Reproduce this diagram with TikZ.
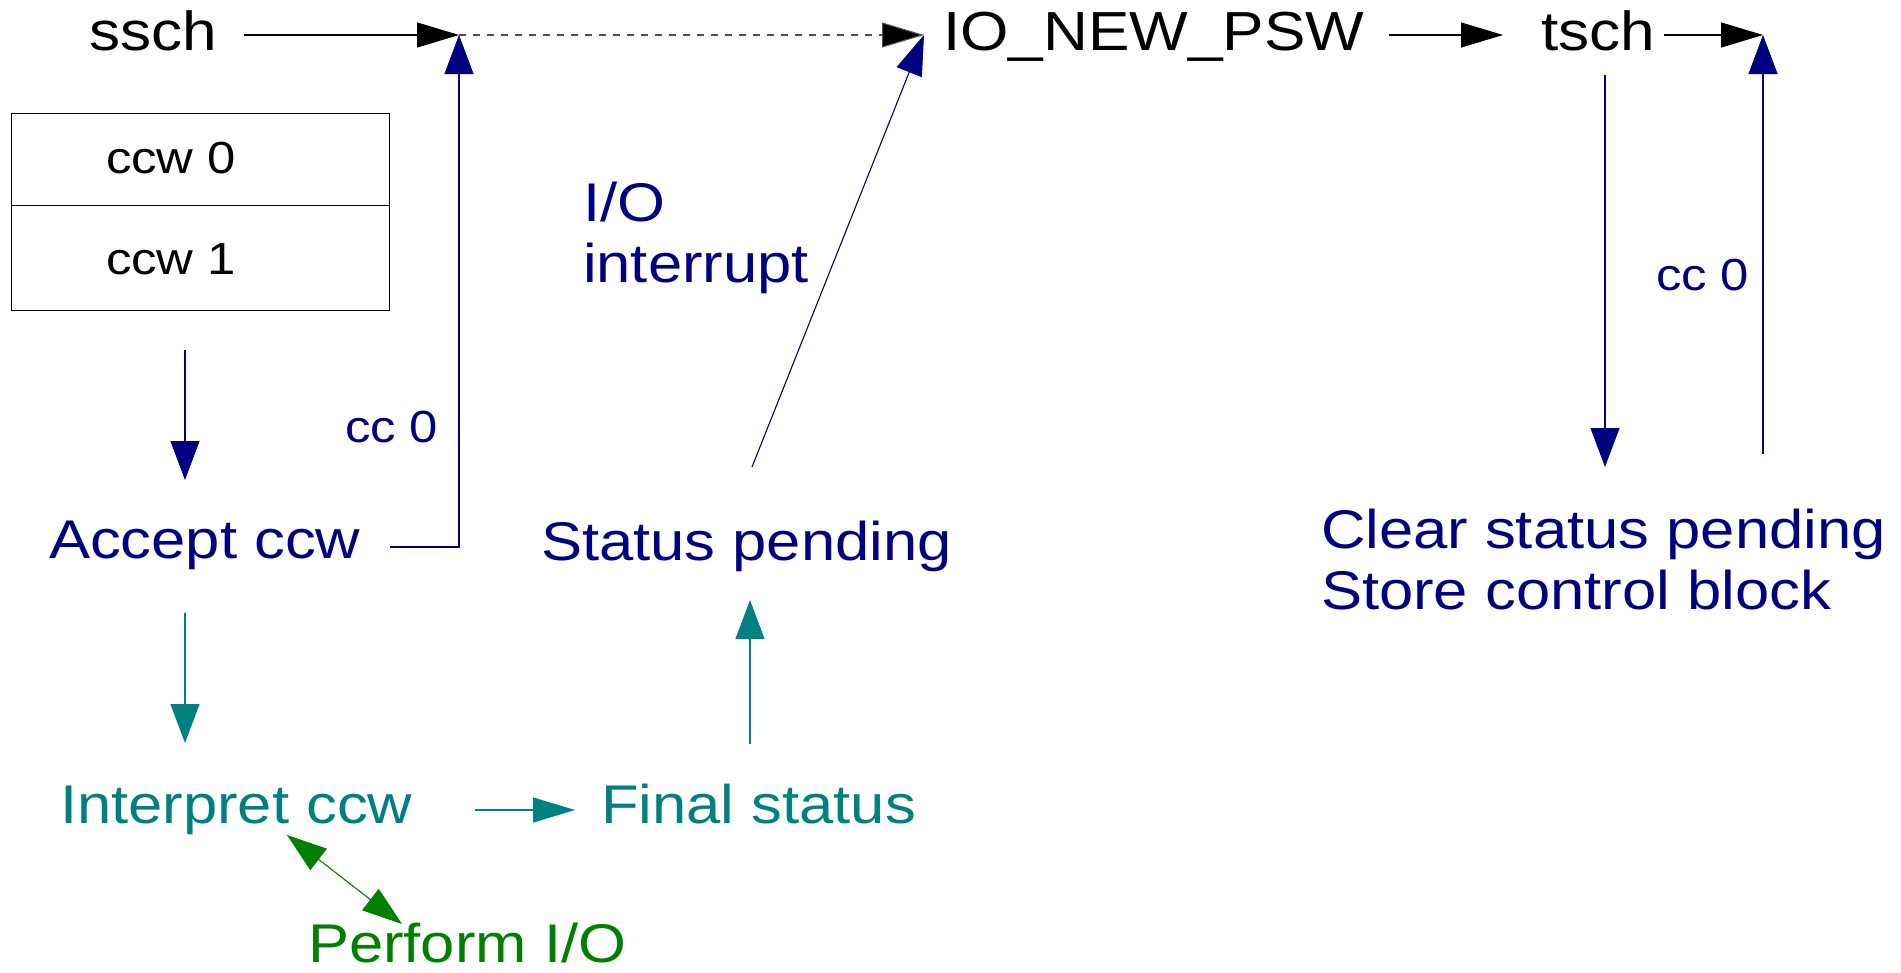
\documentclass[tikz,border=0pt]{standalone}
\usepackage{fontspec}
\setmainfont{Liberation Sans}[FakeStretch=1.13]
\usetikzlibrary{arrows.meta}
\definecolor{navyc}{HTML}{000080}
\definecolor{tealc}{HTML}{008080}
\definecolor{greenc}{HTML}{008000}
\definecolor{dashc}{HTML}{505050}
\begin{document}
\begin{tikzpicture}[x=1pt,y=-1pt,
  lbl/.style={inner sep=0pt, outer sep=0pt, anchor=base west},
  big/.style={font=\fontsize{54.5}{61.5}\selectfont},
  bigblk/.style={font=\fontsize{55}{61.5}\selectfont},
  small/.style={font=\fontsize{45}{52}\selectfont},
  conn/.style={line width=1.1pt},
  hhead/.style={-{Triangle[length=42pt,width=25pt]}},
  vhead/.style={-{Triangle[length=39pt,width=29pt]}},
  dhead/.style={-{Triangle[length=40pt,width=27pt]}},
  ddhead/.style={{Triangle[length=40pt,width=27pt]}-{Triangle[length=40pt,width=27pt]}},
  ]
\useasboundingbox (0,0) rectangle (1901,972);

% ---- texts ----
\node[lbl,bigblk] (ssch) at (89,50) {ssch};
\node[lbl,bigblk] (psw) at (943,50) {IO\_NEW\_PSW};
\node[lbl,bigblk] (tsch) at (1541,50) {tsch};

\node[draw, line width=1pt, minimum width=378pt, minimum height=92pt, inner sep=0pt, anchor=north west] (ccw0box) at (11,113) {};
\node[draw, line width=1pt, minimum width=378pt, minimum height=105pt, inner sep=0pt, anchor=north west] (ccw1box) at (11,205) {};
\node[lbl,small] (ccw0) at (106,173) {ccw 0};
\node[lbl,small] (ccw1) at (106,274) {ccw 1};

\node[lbl,big,text=navyc] (accept) at (49,558) {Accept ccw};
\node[lbl,small,text=navyc] (ccl) at (345,442) {cc 0};
\node[lbl,big,text=navyc] (ioint) at (583,221) {\vtop{\hbox{I/O}\hbox{interrupt}}};
\node[lbl,big,text=navyc] (status) at (541,560) {Status pending};
\node[lbl,big,text=tealc] (interp) at (60,823) {Interpret ccw};
\node[lbl,big,text=tealc] (final) at (601,823) {Final status};
\node[lbl,big,text=greenc] (perform) at (308,962) {Perform I/O};
\node[lbl,big,text=navyc] (clear) at (1321,548) {\vtop{\hbox{Clear status pending}\hbox{Store control block}}};
\node[lbl,small,text=navyc] (ccr) at (1656,290) {cc 0};

% ---- junction coordinates ----
\coordinate (j1) at (459,35);
\coordinate (j2) at (924,35);
\coordinate (j3) at (1763,35);
\coordinate (sschout) at (244,35);
\coordinate (pswout) at (1389,35);
\coordinate (tschin) at (1503,35);
\coordinate (tschout) at (1664,35);
\coordinate (boxout) at (185,350);
\coordinate (accin) at (185,480);
\coordinate (accout) at (390,547);
\coordinate (acccorner) at (459,547);
\coordinate (statout) at (752,467);
\coordinate (accdown) at (185,613);
\coordinate (interpin) at (185,743);
\coordinate (finalup) at (750,744);
\coordinate (statin) at (750,600);
\coordinate (interpout) at (475,810);
\coordinate (finalin) at (575,810);
\coordinate (interpio) at (287,835);
\coordinate (performio) at (402,924);
\coordinate (tschdown) at (1605,75);
\coordinate (clearin) at (1605,467);
\coordinate (clearout) at (1763,454);

% ---- top row ----
\draw[conn, hhead] (sschout) -- (j1);
\draw[line width=1.2pt, dashc, dash pattern=on 7pt off 7pt] (j1) -- ([xshift=-40pt]j2);
\draw[conn, dashc, {-Triangle[length=42pt,width=25pt,fill=black]}] ([xshift=-40pt]j2) -- (j2);
\draw[conn, hhead] (pswout) -- (tschin);
\draw[conn, hhead] (tschout) -- (j3);

% ---- navy flows ----
\draw[conn, navyc, vhead] (boxout) -- (accin);
\draw[conn, navyc, vhead] (accout) -- (acccorner) -- (j1);
\draw[conn, navyc, dhead] (statout) -- (j2);
\draw[conn, navyc, vhead] (tschdown) -- (clearin);
\draw[conn, navyc, vhead] (clearout) -- (j3);

% ---- teal flows ----
\draw[conn, tealc, vhead] (accdown) -- (interpin);
\draw[conn, tealc, vhead] (finalup) -- (statin);
\draw[conn, tealc, hhead] (interpout) -- (finalin);

% ---- green ----
\draw[conn, greenc, ddhead] (interpio) -- (performio);
\end{tikzpicture}
\end{document}
